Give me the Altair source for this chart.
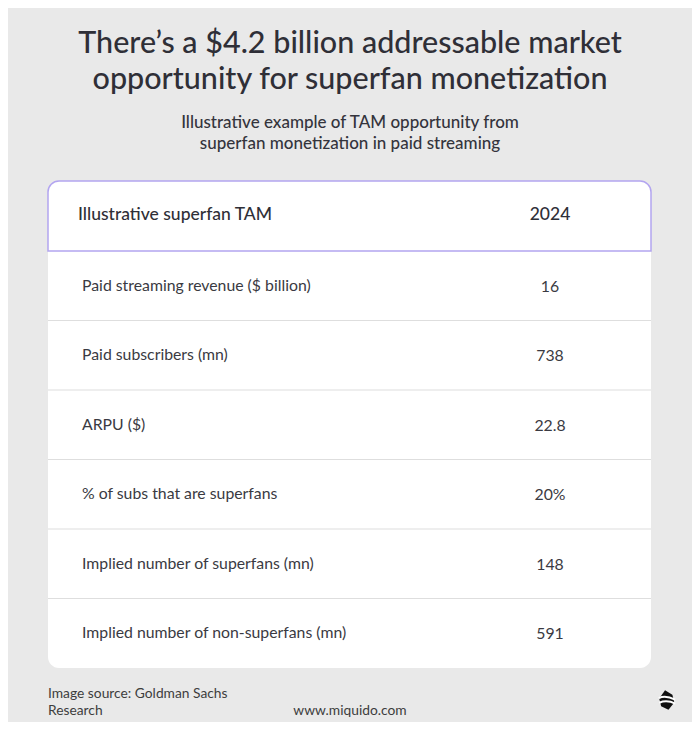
import altair as alt
import pandas as pd

# ---- data ----
title_lines = ["There\u2019s a $4.2 billion addressable market",
               "opportunity for superfan monetization"]
subtitle_lines = ["Illustrative example of TAM opportunity from",
                  "superfan monetization in paid streaming"]
header_label = "Illustrative superfan TAM"
header_year = "2024"
row_labels = [
    "Paid streaming revenue ($ billion)",
    "Paid subscribers (mn)",
    "ARPU ($)",
    "% of subs that are superfans",
    "Implied number of superfans (mn)",
    "Implied number of non-superfans (mn)",
]
row_values = ["16", "738", "22.8", "20%", "148", "591"]
source_lines = ["Image source: Goldman Sachs", "Research"]
site = "www.miquido.com"

W, H = 684, 714
FONT = "Lato"
BG = "#e9e9e9"
TXT = "#2f2f37"

rows = pd.DataFrame({"label": row_labels, "value": row_values})
one = alt.Data(values=[{"k": 1}])

yscale = alt.Scale(domain=row_labels, range=[243, 660], paddingInner=0, paddingOuter=0)
two_lines = alt.Scale(domain=[0, 1])

base = alt.Chart(rows)

# body white box
body = alt.Chart(one).mark_rect(
    fill="white", cornerRadiusBottomLeft=11, cornerRadiusBottomRight=11
).encode(x=alt.value(40), x2=alt.value(643), y=alt.value(243), y2=alt.value(660))

# header box
header_box = alt.Chart(one).mark_rect(
    fill="white", stroke="#b3a5f0", strokeWidth=1.5,
    cornerRadiusTopLeft=11, cornerRadiusTopRight=11
).encode(x=alt.value(40), x2=alt.value(643), y=alt.value(173), y2=alt.value(243))

# separators
seps = alt.Chart(rows.iloc[1:]).mark_rule(color="#dedede", strokeWidth=1.2).encode(
    y=alt.Y("label:N", scale=yscale, axis=None, bandPosition=0),
    x=alt.value(40), x2=alt.value(643),
)

labels = base.mark_text(
    align="left", baseline="middle", font=FONT, fontSize=15.8, color="#3a3a42"
).encode(
    y=alt.Y("label:N", scale=yscale, axis=None),
    x=alt.value(74),
    text="label:N",
)

values = base.mark_text(
    align="center", baseline="middle", font=FONT, fontSize=15.8, color="#3a3a42", dy=1
).encode(
    y=alt.Y("label:N", scale=yscale, axis=None),
    x=alt.value(542),
    text="value:N",
)

hdr = pd.DataFrame({"t": [header_label, header_year]})
hdr_l = alt.Chart(hdr.iloc[:1]).mark_text(
    align="left", baseline="middle", font=FONT, fontSize=17.5, fontWeight=500, color=TXT
).encode(x=alt.value(70), y=alt.value(207), text="t:N")
hdr_r = alt.Chart(hdr.iloc[1:]).mark_text(
    align="center", baseline="middle", font=FONT, fontSize=17.5, fontWeight=500, color=TXT
).encode(x=alt.value(542), y=alt.value(207), text="t:N")

title_df = pd.DataFrame({"t": title_lines, "i": [0, 1]})
title = alt.Chart(title_df).mark_text(
    align="center", baseline="alphabetic", font=FONT, fontSize=30.5, fontWeight=500,
    color=TXT
).encode(
    x=alt.value(342),
    y=alt.Y("i:Q", scale=alt.Scale(domain=[0, 1], range=[45, 81]), axis=None),
    text="t:N",
)

sub_df = pd.DataFrame({"t": subtitle_lines, "i": [0, 1]})
subtitle = alt.Chart(sub_df).mark_text(
    align="center", baseline="alphabetic", font=FONT, fontSize=17, fontWeight=500,
    color="#34343c"
).encode(
    x=alt.value(342),
    y=alt.Y("i:Q", scale=alt.Scale(domain=[0, 1], range=[120, 141]), axis=None),
    text="t:N",
)

src_df = pd.DataFrame({"t": source_lines, "i": [0, 1]})
source = alt.Chart(src_df).mark_text(
    align="left", baseline="alphabetic", font=FONT, fontSize=13.8, color="#3d3d3d"
).encode(
    x=alt.value(40),
    y=alt.Y("i:Q", scale=alt.Scale(domain=[0, 1], range=[690, 707]), axis=None),
    text="t:N",
)

site_t = alt.Chart(pd.DataFrame({"t": [site]})).mark_text(
    align="center", baseline="alphabetic", font=FONT, fontSize=13.8, color="#3d3d3d"
).encode(x=alt.value(342), y=alt.value(707), text="t:N")

logo = alt.Chart(one).mark_point(
    shape="M -0.2,-1 L 0.55,-0.55 L 0.75,0.25 L 0.15,1 L -0.6,0.65 L -0.8,-0.15 Z",
    filled=True, color="#111111", opacity=1, size=380
).encode(x=alt.value(659), y=alt.value(692))
logo_stripes = alt.Chart(one).mark_point(
    shape="M -0.9,-0.2 Q -0.2,-0.55 0.9,-0.05 M -0.85,0.3 Q 0,-0.05 0.9,0.4",
    filled=False, stroke="white", strokeWidth=2, opacity=1, size=330
).encode(x=alt.value(659), y=alt.value(692))

chart = alt.layer(
    body, header_box, seps, labels, values, hdr_l, hdr_r,
    title, subtitle, source, site_t, logo, logo_stripes
).resolve_scale(y="independent").properties(
    width=W, height=H, background=BG, padding=0,
    autosize=alt.AutoSizeParams(type="none"),
).configure_view(stroke=None)

chart.save("out.html", embed_options={"renderer": "svg", "actions": False})
